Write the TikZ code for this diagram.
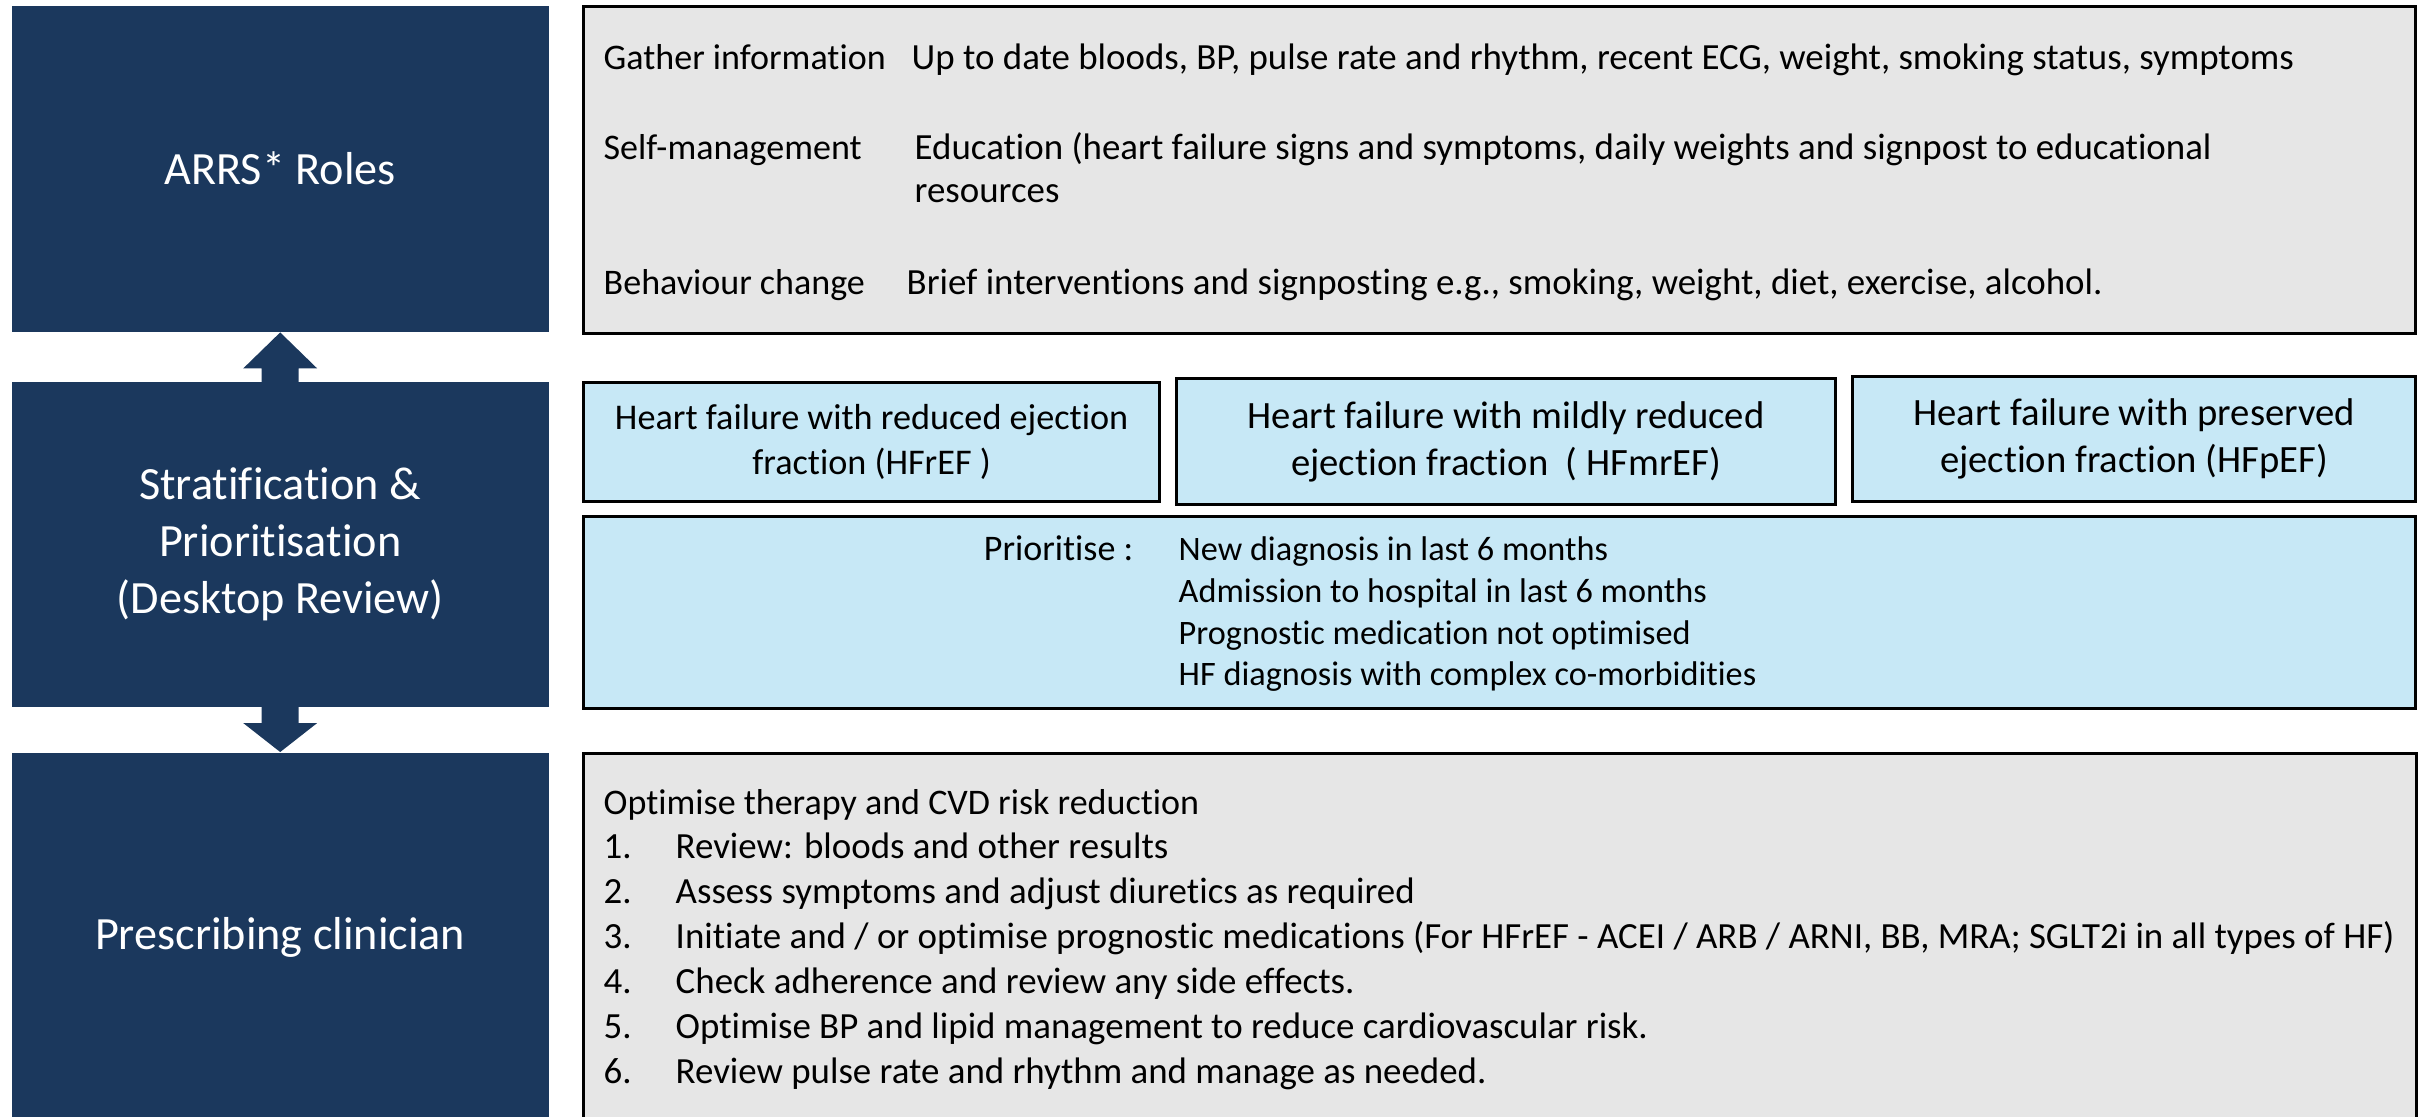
\documentclass[tikz,border=0pt]{standalone}
\usepackage{fontspec}
\setmainfont{Carlito}[Ligatures = NoCommon]
\usepackage{xcolor}
\definecolor{navy}{RGB}{27,56,93}
\definecolor{boxgray}{RGB}{230,230,230}
\definecolor{lightblue}{RGB}{199,232,246}
\tikzset{
	darkbox/.style = {fill = navy, text = white, align = center, inner sep = 0pt, anchor = north west, font = \fontsize{13.15}{16.3}\selectfont},
	lightbox/.style = {draw = black, line width = 0.9pt, inner sep = 0pt, anchor = north west},
	txt/.style = {anchor = base west, inner sep = 0pt, font = \fontsize{10.25}{12}\selectfont},
	lighttxt/.style = {txt, font = \fontsize{10.5}{12}\selectfont},
}

\begin{document}
\begin{tikzpicture}
		\useasboundingbox (0, 0) rectangle (24.2, -11.16);
		\clip (0, 0) rectangle (24.2, -11.16);
		% left column
		\node [darkbox, minimum width = 5.37cm, minimum height = 3.26cm] (roles) at (0.11, -0.05) {ARRS* Roles};
		\node [darkbox, minimum width = 5.37cm, minimum height = 3.25cm] (strat) at (0.11, -3.81) {Stratification \&\\Prioritisation\\(Desktop Review)};
		\node [darkbox, minimum width = 5.37cm, minimum height = 3.70cm] (prescr) at (0.11, -7.52) {Prescribing clinician};
		% arrows
		\fill [navy] (roles.south) -- ++(0.37, -0.36) -- ++(-0.185, 0) -- ++(0, -0.16) -- ++(-0.37, 0) -- ++(0, 0.16) -- ++(-0.185, 0) -- cycle;
		\fill [navy] (prescr.north) -- ++(0.37, 0.29) -- ++(-0.185, 0) -- ++(0, 0.18) -- ++(-0.37, 0) -- ++(0, -0.18) -- ++(-0.185, 0) -- cycle;
		% ARRS roles
		\node [lightbox, fill = boxgray, minimum width = 18.32cm, minimum height = 3.27cm] (info) at (5.82, -0.05) {};
		\node [txt] (gather) at (6.03, -0.69) {Gather information};
		\node [lighttxt] (gathertxt) at (9.11, -0.69) {Up to date bloods, BP, pulse rate and rhythm, recent ECG, weight, smoking status, symptoms};
		\node [txt] (selfman) at (6.03, -1.59) {Self-management};
		\node [lighttxt] (selfmantxt) at (9.14, -1.59) {Education (heart failure signs and symptoms, daily weights and signpost to educational};
		\node [lighttxt] (selfmantxt2) at (9.14, -2.02) {resources};
		\node [txt] (behav) at (6.03, -2.94) {Behaviour change};
		\node [lighttxt] (behavtxt) at (9.06, -2.94) {Brief interventions and signposting e.g., smoking, weight, diet, exercise, alcohol.};
		% stratification
		\node [lightbox, fill = lightblue, minimum width = 5.76cm, minimum height = 1.19cm, align = center, font = \fontsize{10.3}{12.8}\selectfont] (hfref) at (5.82, -3.81) {Heart failure with reduced ejection\\fraction (HFrEF )};
		\node [lightbox, fill = lightblue, minimum width = 6.59cm, minimum height = 1.26cm, align = center, font = \fontsize{11}{13.4}\selectfont] (hfmref) at (11.75, -3.77) {Heart failure with mildly reduced\\ejection fraction\ \ ( HFmrEF)};
		\node [lightbox, fill = lightblue, minimum width = 5.63cm, minimum height = 1.25cm, align = center, font = \fontsize{11}{13.4}\selectfont] (hfpef) at (18.51, -3.75) {Heart failure with preserved\\ejection fraction (HFpEF)};
		\node [lightbox, fill = lightblue, minimum width = 18.32cm, minimum height = 1.92cm] (prior) at (5.82, -5.15) {};
		\node [txt, anchor = base east] (priolbl) at (11.34, -5.60) {Prioritise :};
		\node [txt, font = \fontsize{9.75}{12}\selectfont] (prio1) at (11.78, -5.60) {New diagnosis in last 6 months};
		\node [txt, font = \fontsize{9.75}{12}\selectfont] (prio2) at (11.78, -6.02) {Admission to hospital in last 6 months};
		\node [txt, font = \fontsize{9.75}{12}\selectfont] (prio3) at (11.78, -6.44) {Prognostic medication not optimised};
		\node [txt, font = \fontsize{9.75}{12}\selectfont] (prio4) at (11.78, -6.85) {HF diagnosis with complex co-morbidities};
		% prescribing
		\node [lightbox, fill = boxgray, minimum width = 18.33cm, minimum height = 3.70cm] (optim) at (5.82, -7.52) {};
		\node [txt] (optimhd) at (6.03, -8.14) {Optimise therapy and CVD risk reduction};
		\node [lighttxt] (num1) at (6.03, -8.58) {1.};
		\node [lighttxt] (item1) at (6.75, -8.58) {Review: bloods and other results};
		\node [lighttxt] (num2) at (6.03, -9.03) {2.};
		\node [lighttxt] (item2) at (6.75, -9.03) {Assess symptoms and adjust diuretics as required};
		\node [lighttxt] (num3) at (6.03, -9.48) {3.};
		\node [lighttxt] (item3) at (6.75, -9.48) {Initiate and / or optimise prognostic medications (For HFrEF - ACEI / ARB / ARNI, BB, MRA; SGLT2i in all types of HF)};
		\node [lighttxt] (num4) at (6.03, -9.93) {4.};
		\node [lighttxt] (item4) at (6.75, -9.93) {Check adherence and review any side effects.};
		\node [lighttxt] (num5) at (6.03, -10.38) {5.};
		\node [lighttxt] (item5) at (6.75, -10.38) {Optimise BP and lipid management to reduce cardiovascular risk.};
		\node [lighttxt] (num6) at (6.03, -10.83) {6.};
		\node [lighttxt] (item6) at (6.75, -10.83) {Review pulse rate and rhythm and manage as needed.};
	\end{tikzpicture}
\end{document}
